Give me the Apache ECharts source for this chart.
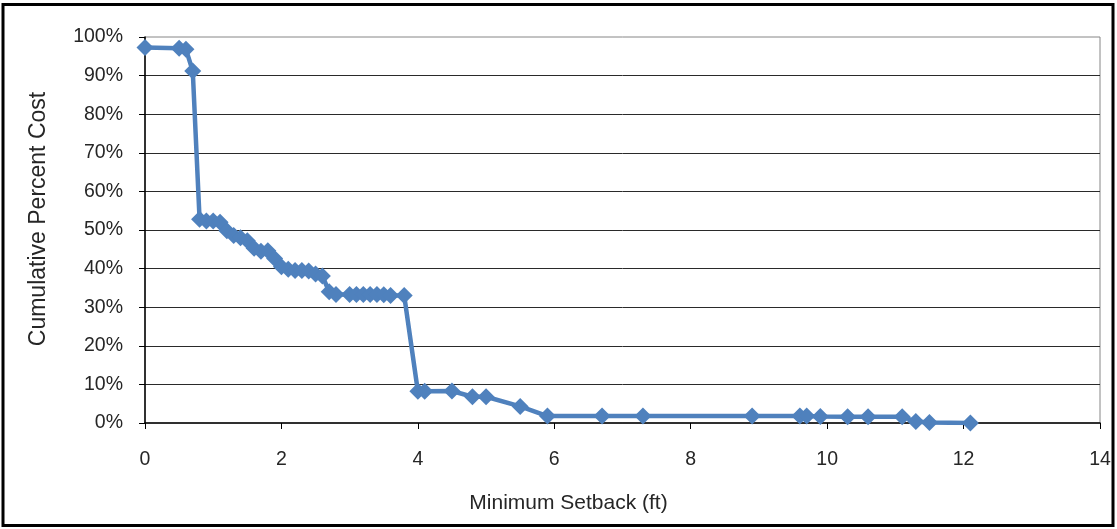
<!DOCTYPE html>
<html>
<head>
<meta charset="utf-8">
<script src="https://cdn.jsdelivr.net/npm/echarts@6/dist/echarts.min.js"></script>
<style>
html,body{margin:0;padding:0;background:#fff;}
#chart{width:1117px;height:529px;}
</style>
</head>
<body>
<div id="chart"></div>
<script>
// Minimum setback (ft)
var setbacks = [0, 0.5, 0.6, 0.7, 0.8, 0.9, 1.0, 1.1, 1.2, 1.3, 1.4, 1.5, 1.6, 1.7, 1.8, 1.9, 2.0, 2.1, 2.2, 2.3, 2.4, 2.5, 2.6, 2.7, 2.8, 3.0, 3.1, 3.2, 3.3, 3.4, 3.5, 3.6, 3.8, 4.0, 4.1, 4.5, 4.8, 5.0, 5.5, 5.9, 6.7, 7.3, 8.9, 9.6, 9.7, 9.9, 10.3, 10.6, 11.1, 11.3, 11.5, 12.1];
// Cumulative percent cost (%)
var cumulativePct = [97.3, 97.1, 96.8, 91.2, 52.8, 52.3, 52.3, 52.0, 49.8, 48.6, 48.0, 47.2, 45.3, 44.5, 44.6, 42.6, 40.5, 39.8, 39.5, 39.5, 39.4, 38.6, 38.1, 34.0, 33.3, 33.3, 33.3, 33.3, 33.3, 33.3, 33.2, 33.0, 33.0, 8.2, 8.2, 8.3, 6.8, 6.8, 4.3, 1.8, 1.8, 1.8, 1.8, 1.8, 1.8, 1.7, 1.6, 1.6, 1.6, 0.4, 0.1, 0.0];
var xTicks = [0, 2, 4, 6, 8, 10, 12, 14];
var yTicks = [0, 10, 20, 30, 40, 50, 60, 70, 80, 90, 100];

var points = setbacks.map(function (x, i) { return [x, cumulativePct[i]]; });

var chart = echarts.init(document.getElementById('chart'), null, {renderer: 'canvas'});
var font = 'Liberation Sans, Arial, sans-serif';
var textColor = '#262626';
chart.setOption({
  animation: false,
  graphic: [{
    type: 'rect', z: 100,
    shape: {x: 3, y: 4.5, width: 1110, height: 521},
    style: {fill: 'none', stroke: '#000', lineWidth: 3}
  }],
  grid: {left: 145, right: 17, top: 37, bottom: 106, show: true, borderColor: '#868686', borderWidth: 1},
  xAxis: {
    type: 'value', min: xTicks[0], max: xTicks[xTicks.length - 1], interval: 2,
    name: 'Minimum Setback (ft)', nameLocation: 'middle', nameGap: 70,
    nameTextStyle: {fontFamily: font, fontSize: 21, color: textColor, padding: [0, 108, 0, 0]},
    axisLine: {show: true, onZero: false, lineStyle: {color: '#000', width: 1.5}},
    axisTick: {show: true, length: 6, lineStyle: {color: '#000'}},
    axisLabel: {fontFamily: font, fontSize: 19.5, color: textColor, margin: 27},
    splitLine: {show: false}
  },
  yAxis: {
    type: 'value', min: yTicks[0], max: yTicks[yTicks.length - 1], interval: 10,
    name: 'Cumulative Percent Cost', nameLocation: 'middle', nameGap: 95,
    nameTextStyle: {fontFamily: font, fontSize: 23, color: textColor, padding: [0, 0, 0, 22]},
    axisLine: {show: true, lineStyle: {color: '#000', width: 1.5}},
    axisTick: {show: true, length: 6, lineStyle: {color: '#000'}},
    axisLabel: {fontFamily: font, fontSize: 19.5, color: textColor, margin: 22, formatter: '{value}%'},
    splitLine: {show: true, showMaxLine: false, showMinLine: false, lineStyle: {color: '#2a2a2a', width: 1}}
  },
  series: [{
    type: 'line',
    data: points,
    symbol: 'diamond',
    symbolSize: 17,
    lineStyle: {color: '#4F81BD', width: 4.5},
    itemStyle: {color: '#4F81BD'},
    z: 5
  }]
});
</script>
</body>
</html>
